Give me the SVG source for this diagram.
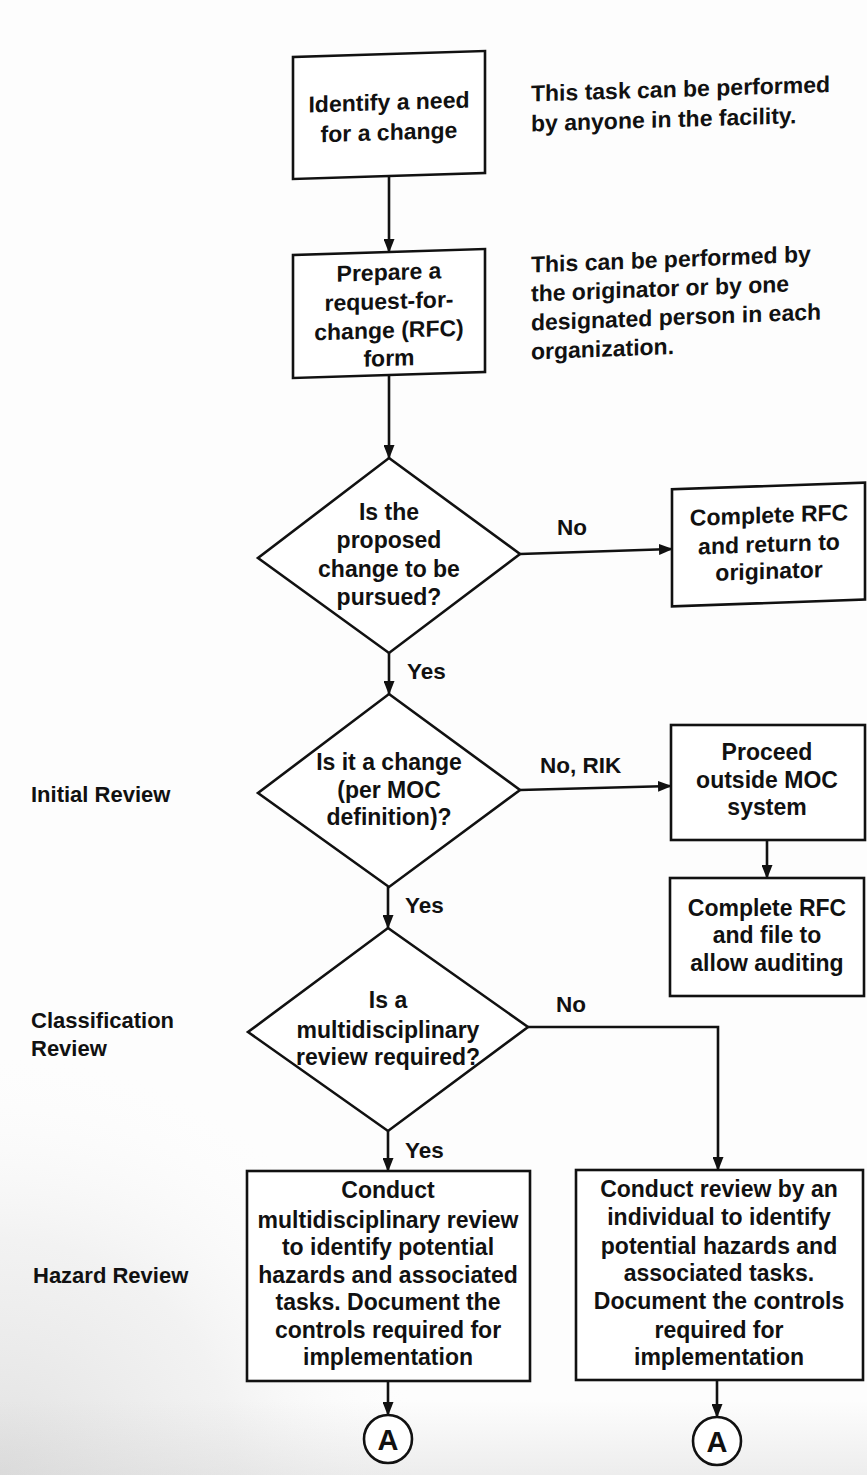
<svg xmlns="http://www.w3.org/2000/svg" width="867" height="1475" viewBox="0 0 867 1475">
  <defs>
    <marker id="arrow" markerUnits="userSpaceOnUse" markerWidth="14" markerHeight="11" refX="13" refY="5.5" orient="auto">
      <path d="M0,0 L14,5.5 L0,11 Z" fill="#111"/>
    </marker>
    <radialGradient id="paper" cx="0" cy="1475" r="430" gradientUnits="userSpaceOnUse">
      <stop offset="0" stop-color="#c4c4c4" stop-opacity="0.5"/>
      <stop offset="0.55" stop-color="#d6d6d6" stop-opacity="0.28"/>
      <stop offset="1" stop-color="#ffffff" stop-opacity="0"/>
    </radialGradient>
    <linearGradient id="bottom-edge" x1="0" y1="1400" x2="0" y2="1475" gradientUnits="userSpaceOnUse">
      <stop offset="0" stop-color="#d0d0d0" stop-opacity="0"/>
      <stop offset="1" stop-color="#cfcfcf" stop-opacity="0.35"/>
    </linearGradient>
    <style>
      .shape { fill: #fff; stroke: #111; stroke-width: 2.6; }
      .conn { fill: none; stroke: #111; stroke-width: 2.6; }
      .t { font-family: "Liberation Sans", Arial, sans-serif; font-weight: bold; font-size: 23px; fill: #111; text-anchor: middle; }
      .note { font-family: "Liberation Sans", Arial, sans-serif; font-weight: bold; font-size: 23px; fill: #111; }
      .side { font-family: "Liberation Sans", Arial, sans-serif; font-weight: bold; font-size: 22px; fill: #111; }
      .lbl { font-family: "Liberation Sans", Arial, sans-serif; font-weight: bold; font-size: 22.5px; fill: #111; }
      .big { font-family: "Liberation Sans", Arial, sans-serif; font-weight: bold; font-size: 29px; fill: #111; text-anchor: middle; }
    </style>
  </defs>

  <!-- page -->
  <rect x="0" y="0" width="867" height="1475" fill="#fdfdfd"/>
  <rect x="0" y="0" width="867" height="1475" fill="url(#paper)"/>
  <rect x="0" y="1400" width="867" height="75" fill="url(#bottom-edge)"/>

  <!-- connectors -->
  <g id="connectors">
    <path class="conn" d="M389,176 L389,252" marker-end="url(#arrow)"/>
    <path class="conn" d="M389,375 L389,458" marker-end="url(#arrow)"/>
    <path class="conn" d="M520,554 L672,549" marker-end="url(#arrow)"/>
    <path class="conn" d="M389,653 L389,694" marker-end="url(#arrow)"/>
    <path class="conn" d="M520,790 L671,786" marker-end="url(#arrow)"/>
    <path class="conn" d="M767,840 L767,878" marker-end="url(#arrow)"/>
    <path class="conn" d="M388,887 L388,928" marker-end="url(#arrow)"/>
    <path class="conn" d="M528,1027 L718,1027 L718,1170" marker-end="url(#arrow)"/>
    <path class="conn" d="M388,1131 L388,1171" marker-end="url(#arrow)"/>
    <path class="conn" d="M388,1381 L388,1415" marker-end="url(#arrow)"/>
    <path class="conn" d="M717,1380 L717,1417" marker-end="url(#arrow)"/>
  </g>

  <!-- connector labels -->
  <g id="connector-labels">
    <text class="lbl" x="557" y="535">No</text>
    <text class="lbl" x="407" y="679">Yes</text>
    <text class="lbl" x="540" y="773">No, RIK</text>
    <text class="lbl" x="405" y="913">Yes</text>
    <text class="lbl" x="556" y="1012">No</text>
    <text class="lbl" x="405" y="1158">Yes</text>
  </g>

  <!-- stage labels -->
  <g id="stage-initial">
    <text class="side" x="31" y="802">Initial Review</text>
  </g>
  <g id="stage-classification">
    <text class="side" x="31" y="1028">Classification</text>
    <text class="side" x="31" y="1056">Review</text>
  </g>
  <g id="stage-hazard">
    <text class="side" x="33" y="1283">Hazard Review</text>
  </g>

  <!-- top section, slightly sheared like the printed page -->
  <g id="identify-need" transform="translate(389,0) skewY(-1.8) translate(-389,0)">
    <rect class="shape" x="293" y="54" width="192" height="122"/>
    <text class="t" x="389" y="110">Identify a need</text>
    <text class="t" x="389" y="140">for a change</text>
  </g>
  <g id="note-anyone" transform="translate(389,0) skewY(-1.8) translate(-389,0)">
    <text class="note" x="531" y="106">This task can be performed</text>
    <text class="note" x="531" y="136">by anyone in the facility.</text>
  </g>
  <g id="prepare-rfc" transform="translate(389,0) skewY(-1.8) translate(-389,0)">
    <rect class="shape" x="293" y="252" width="192" height="123"/>
    <text class="t" x="389" y="280">Prepare a</text>
    <text class="t" x="389" y="309">request-for-</text>
    <text class="t" x="389" y="338">change (RFC)</text>
    <text class="t" x="389" y="366">form</text>
  </g>
  <g id="note-originator" transform="translate(389,0) skewY(-2.2) translate(-389,0)">
    <text class="note" x="531" y="278">This can be performed by</text>
    <text class="note" x="531" y="307">the originator or by one</text>
    <text class="note" x="531" y="336">designated person in each</text>
    <text class="note" x="531" y="365">organization.</text>
  </g>

  <!-- decision: pursue -->
  <g id="decision-pursue">
    <polygon class="shape" points="389,458 520,554 389,653 258,558"/>
    <text class="t" x="389" y="520">Is the</text>
    <text class="t" x="389" y="548">proposed</text>
    <text class="t" x="389" y="577">change to be</text>
    <text class="t" x="389" y="605">pursued?</text>
  </g>

  <g id="complete-return" transform="translate(768,0) skewY(-2) translate(-768,0)">
    <rect class="shape" x="672" y="486" width="193" height="117"/>
    <text class="t" x="769" y="523">Complete RFC</text>
    <text class="t" x="769" y="552">and return to</text>
    <text class="t" x="769" y="579">originator</text>
  </g>

  <!-- decision: is it a change -->
  <g id="decision-change">
    <polygon class="shape" points="389,694 520,790 389,887 258,793"/>
    <text class="t" x="389" y="770">Is it a change</text>
    <text class="t" x="389" y="798">(per MOC</text>
    <text class="t" x="389" y="825">definition)?</text>
  </g>

  <g id="proceed-outside">
    <rect class="shape" x="671" y="725" width="194" height="115"/>
    <text class="t" x="767" y="760">Proceed</text>
    <text class="t" x="767" y="788">outside MOC</text>
    <text class="t" x="767" y="815">system</text>
  </g>

  <g id="complete-file">
    <rect class="shape" x="670" y="878" width="194" height="118"/>
    <text class="t" x="767" y="916">Complete RFC</text>
    <text class="t" x="767" y="943">and file to</text>
    <text class="t" x="767" y="971">allow auditing</text>
  </g>

  <!-- decision: multidisciplinary review -->
  <g id="decision-multi">
    <polygon class="shape" points="388,928 528,1027 388,1131 248,1032"/>
    <text class="t" x="388" y="1008">Is a</text>
    <text class="t" x="388" y="1038">multidisciplinary</text>
    <text class="t" x="388" y="1065">review required?</text>
  </g>

  <g id="multi-review">
    <rect class="shape" x="247" y="1171" width="283" height="210"/>
    <text class="t" x="388" y="1198">Conduct</text>
    <text class="t" x="388" y="1228">multidisciplinary review</text>
    <text class="t" x="388" y="1255">to identify potential</text>
    <text class="t" x="388" y="1283">hazards and associated</text>
    <text class="t" x="388" y="1310">tasks. Document the</text>
    <text class="t" x="388" y="1338">controls required for</text>
    <text class="t" x="388" y="1365">implementation</text>
  </g>

  <g id="individual-review">
    <rect class="shape" x="576" y="1170" width="287" height="210"/>
    <text class="t" x="719" y="1197">Conduct review by an</text>
    <text class="t" x="719" y="1225">individual to identify</text>
    <text class="t" x="719" y="1254">potential hazards and</text>
    <text class="t" x="719" y="1281">associated tasks.</text>
    <text class="t" x="719" y="1309">Document the controls</text>
    <text class="t" x="719" y="1338">required for</text>
    <text class="t" x="719" y="1365">implementation</text>
  </g>

  <!-- off-page connectors -->
  <g id="connector-a-left">
    <circle class="shape" cx="388" cy="1439" r="24"/>
    <text class="big" x="388" y="1449.5">A</text>
  </g>
  <g id="connector-a-right">
    <circle class="shape" cx="717" cy="1441" r="24"/>
    <text class="big" x="717" y="1451.5">A</text>
  </g>
</svg>
